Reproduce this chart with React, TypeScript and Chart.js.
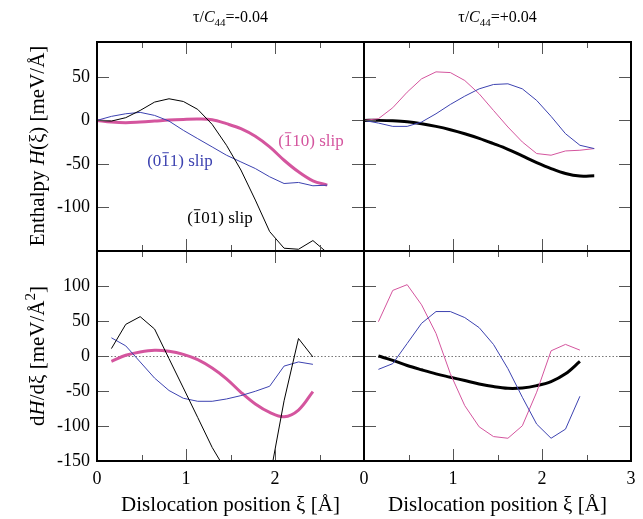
import React, { useEffect, useRef } from 'react';
import { Chart, registerables } from 'chart.js';
Chart.register(...registerables);

const W = 643;
const H = 519;
const FONT = '"Liberation Serif", "DejaVu Serif", serif';
const PINK = '#d4559e';
const BLUE = '#3c42b0';
const BLACK = '#000000';

// dislocation positions (Å)
const xTop = [0, 0.162, 0.323, 0.485, 0.647, 0.809, 0.97, 1.132, 1.294, 1.455, 1.617, 1.779, 1.94, 2.102, 2.264, 2.426, 2.587];
const xBot = [0.162, 0.323, 0.485, 0.647, 0.809, 0.97, 1.132, 1.294, 1.455, 1.617, 1.779, 1.94, 2.102, 2.264, 2.426];

// tau/C44 = -0.04 : enthalpy H(xi) [meV/Å]
const hNeg110 = [0, -1.9, -2.7, -1.9, -0.8, 0.4, 1.1, 1.5, 0.8, -3.8, -9.5, -18.3, -30.5, -45.8, -59.1, -69.4, -74.4];
const hNeg011 = [0, 4.6, 7.6, 9.2, 5.7, -0.8, -11.4, -21, -30.5, -40, -47.7, -55.3, -64.8, -72.5, -71.3, -75.1, -74.4];
const hNeg101 = [0, -0.8, 3.1, 11.4, 21, 24.8, 21.7, 12.6, -4.6, -28.6, -57, -91.5, -127.7, -146.8, -148, -138, -152];

// tau/C44 = +0.04 : enthalpy
const hPos110 = [0, 1.9, 14.5, 32.4, 47.7, 55.7, 54.9, 45.8, 30.5, 11.4, -7.6, -24.8, -38.1, -40, -35.1, -34.3, -32.4];
const hPos011 = [0, -3.1, -6.9, -6.9, -1.9, 7.6, 18.3, 27.8, 36.2, 41.2, 42, 36.2, 22.9, 4.6, -15.3, -28.6, -32.4];
const hPos101 = [0, 0, -0.4, -1.5, -3.8, -6.9, -10.7, -15.3, -20.6, -26.7, -33.2, -40.8, -48.4, -55.3, -61, -64, -63.7];

// tau/C44 = -0.04 : dH/dxi [meV/Å^2]
const dNeg110 = [-7.6, 1, 5.8, 8.2, 6.8, 2.4, -5.2, -17.2, -32.6, -51.8, -68.6, -80.6, -86.8, -77.2, -50.8];
const dNeg011 = [26, 14.5, -8.5, -31.6, -49.3, -60.4, -64.7, -64.7, -61.4, -56.6, -50.4, -43.2, -14.4, -8.5, -11.9];
const dNeg101 = [10.6, 45.2, 56.2, 38.5, -3.8, -45.6, -87.9, -130.6, -165, -200, -220, -175, -64, 25, -1.4];

// tau/C44 = +0.04 : dH/dxi
const dPos110 = [49, 93.7, 101.9, 73.1, 32.3, -25.3, -70.9, -101.2, -115.1, -117.5, -99.7, -51.7, 7.4, 16.6, 8.4];
const dPos011 = [-19.1, -10.9, 17.9, 46.7, 63.5, 63.5, 54.9, 40.5, 16.5, -18.1, -58.9, -97.3, -117.5, -104.5, -57.5];
const dPos101 = [0, -6.2, -13.5, -19.7, -25.5, -30.3, -35.1, -39.9, -43.7, -46.1, -45.6, -42.3, -36.5, -25.5, -7.7];

const topRange = [-150, 90];
const botRange = [-150, 150];
const xRange = [0, 3];

type Part = { t: string; italic?: boolean; scale?: number; dy?: number; over?: boolean };

function drawRich(ctx: CanvasRenderingContext2D, parts: Part[], x: number, y: number, size: number, color: string, rot = 0) {
  ctx.save();
  ctx.translate(x, y);
  ctx.rotate(rot);
  ctx.fillStyle = color;
  ctx.strokeStyle = color;
  ctx.textBaseline = 'alphabetic';
  ctx.textAlign = 'left';
  const fontOf = (p: Part) => `${p.italic ? 'italic ' : ''}${Math.round(size * (p.scale || 1))}px ${FONT}`;
  let total = 0;
  const widths = parts.map((p) => {
    ctx.font = fontOf(p);
    const w = ctx.measureText(p.t).width;
    total += w;
    return w;
  });
  let cx = -total / 2;
  parts.forEach((p, i) => {
    ctx.font = fontOf(p);
    ctx.fillText(p.t, cx, p.dy || 0);
    if (p.over) {
      ctx.lineWidth = 1;
      ctx.beginPath();
      const oy = -size * 0.78;
      ctx.moveTo(cx + 1, oy);
      ctx.lineTo(cx + widths[i] - 1, oy);
      ctx.stroke();
    }
    cx += widths[i];
  });
  ctx.restore();
}

const textPlugin = {
  id: 'texts',
  afterDraw(chart: any) {
    const ctx = chart.ctx as CanvasRenderingContext2D;
    drawRich(ctx, [{ t: 'τ/' }, { t: 'C', italic: true }, { t: '44', scale: 0.7, dy: 4 }, { t: '=-0.04' }], 230.5, 22, 16, BLACK);
    drawRich(ctx, [{ t: 'τ/' }, { t: 'C', italic: true }, { t: '44', scale: 0.7, dy: 4 }, { t: '=+0.04' }], 497.5, 22, 16, BLACK);
    drawRich(ctx, [{ t: 'Dislocation position ξ [Å]' }], 230.5, 511, 21, BLACK);
    drawRich(ctx, [{ t: 'Dislocation position ξ [Å]' }], 497.5, 511, 21, BLACK);
    drawRich(ctx, [{ t: 'Enthalpy ' }, { t: 'H', italic: true }, { t: '(ξ) [meV/Å]' }], 44, 146, 21, BLACK, -Math.PI / 2);
    drawRich(ctx, [{ t: 'd' }, { t: 'H', italic: true }, { t: '/dξ [meV/Å' }, { t: '2', scale: 0.7, dy: -9 }, { t: ']' }], 44, 356, 21, BLACK, -Math.PI / 2);
    drawRich(ctx, [{ t: '(' }, { t: '1', over: true }, { t: '10) slip' }], 311, 146, 17, PINK);
    drawRich(ctx, [{ t: '(0' }, { t: '1', over: true }, { t: '1) slip' }], 180, 166, 17, BLUE);
    drawRich(ctx, [{ t: '(' }, { t: '1', over: true }, { t: '01) slip' }], 220, 223, 17, BLACK);
  },
};

type Panel = {
  left: number; top: number; right: number; bottom: number;
  yr: number[]; showY: boolean; showX: boolean; lastX: boolean;
  zero: boolean; hideY: number; xs: number[];
  series: { data: number[]; color: string; width: number; smooth: boolean }[];
  texts?: boolean;
};

const panels: Panel[] = [
  { left: 97, top: 42, right: 364, bottom: 251, yr: topRange, showY: true, showX: false, lastX: false, zero: false, hideY: -150, xs: xTop, texts: true,
    series: [ { data: hNeg101, color: BLACK, width: 1, smooth: false }, { data: hNeg011, color: BLUE, width: 1, smooth: false }, { data: hNeg110, color: PINK, width: 3, smooth: true } ] },
  { left: 364, top: 42, right: 631, bottom: 251, yr: topRange, showY: false, showX: false, lastX: true, zero: false, hideY: -150, xs: xTop,
    series: [ { data: hPos011, color: BLUE, width: 1, smooth: false }, { data: hPos110, color: PINK, width: 1, smooth: false }, { data: hPos101, color: BLACK, width: 3, smooth: true } ] },
  { left: 97, top: 251, right: 364, bottom: 461, yr: botRange, showY: true, showX: true, lastX: false, zero: true, hideY: 150, xs: xBot,
    series: [ { data: dNeg101, color: BLACK, width: 1, smooth: false }, { data: dNeg011, color: BLUE, width: 1, smooth: false }, { data: dNeg110, color: PINK, width: 3, smooth: true } ] },
  { left: 364, top: 251, right: 631, bottom: 461, yr: botRange, showY: false, showX: true, lastX: true, zero: true, hideY: 150, xs: xBot,
    series: [ { data: dPos011, color: BLUE, width: 1, smooth: false }, { data: dPos110, color: PINK, width: 1, smooth: false }, { data: dPos101, color: BLACK, width: 3, smooth: true } ] },
];

function makeFrame(p: Panel) {
  return {
    id: 'frame',
    beforeDatasetsDraw(chart: any) {
      if (!p.zero) return;
      const { ctx, chartArea, scales } = chart;
      const y0 = Math.round(scales.y.getPixelForValue(0)) + 0.5;
      ctx.save();
      ctx.strokeStyle = '#777';
      ctx.lineWidth = 1.2;
      ctx.setLineDash([1.5, 2]);
      ctx.beginPath();
      ctx.moveTo(chartArea.left, y0);
      ctx.lineTo(chartArea.right, y0);
      ctx.stroke();
      ctx.restore();
    },
    afterDraw(chart: any) {
      const { ctx, chartArea, scales } = chart;
      const { left, top, right, bottom } = chartArea;
      ctx.save();
      ctx.strokeStyle = '#555';
      ctx.lineWidth = 1;
      ctx.beginPath();
      for (let k = 1; k < 6; k++) {
        const v = k * 0.5;
        const px = Math.round(scales.x.getPixelForValue(v)) + 0.5;
        const len = k % 2 === 0 ? 12 : 6;
        ctx.moveTo(px, top);
        ctx.lineTo(px, top + len);
        ctx.moveTo(px, bottom);
        ctx.lineTo(px, bottom - len);
      }
      for (let v = -100; v <= 100; v += 50) {
        if (v <= p.yr[0] || v >= p.yr[1]) continue;
        const py = Math.round(scales.y.getPixelForValue(v)) + 0.5;
        ctx.moveTo(left, py);
        ctx.lineTo(left + 12, py);
        ctx.moveTo(right, py);
        ctx.lineTo(right - 12, py);
      }
      ctx.stroke();
      ctx.strokeStyle = '#000';
      ctx.lineWidth = 2;
      ctx.strokeRect(left, top, right - left, bottom - top);
      ctx.restore();
    },
  };
}

function PanelChart({ p }: { p: Panel }) {
  const ref = useRef<HTMLCanvasElement | null>(null);
  useEffect(() => {
    if (!ref.current) return;
    const datasets = p.series.map((s) => ({
      data: p.xs.map((x, i) => ({ x, y: s.data[i] })),
      borderColor: s.color,
      borderWidth: s.width,
      tension: s.smooth ? 0.35 : 0,
      pointRadius: 0,
      fill: false,
      clip: 0,
    }));
    const plugins: any[] = [makeFrame(p)];
    if (p.texts) plugins.push(textPlugin);
    const chart = new Chart(ref.current, {
      type: 'line',
      data: { datasets } as any,
      options: {
        responsive: false,
        animation: false,
        devicePixelRatio: 1,
        events: [],
        layout: {
          padding: {
            left: p.showY ? 0 : p.left,
            top: p.top,
            right: W - p.right,
            bottom: p.showX ? 0 : H - p.bottom,
          },
        },
        plugins: { legend: { display: false }, tooltip: { enabled: false } },
        scales: {
          x: {
            type: 'linear',
            min: xRange[0],
            max: xRange[1],
            display: p.showX,
            grid: { display: false, drawTicks: false },
            border: { display: false },
            ticks: {
              stepSize: 1,
              padding: 7,
              color: '#000',
              maxRotation: 0,
              autoSkip: false,
              font: { family: FONT, size: 18 },
              callback: (v: any) => (Number.isInteger(v) && (p.lastX || v !== 3) ? String(v) : ''),
            },
            afterFit: (s: any) => {
              if (p.showX) s.height = H - p.bottom;
            },
          },
          y: {
            type: 'linear',
            min: p.yr[0],
            max: p.yr[1],
            display: p.showY,
            grid: { display: false, drawTicks: false },
            border: { display: false },
            ticks: {
              stepSize: 50,
              padding: 7,
              color: '#000',
              autoSkip: false,
              font: { family: FONT, size: 18 },
              callback: (v: any) => (v % 50 === 0 && v !== p.hideY ? String(v) : ''),
            },
            afterFit: (s: any) => {
              if (p.showY) s.width = p.left;
            },
          },
        },
      } as any,
      plugins,
    });
    return () => chart.destroy();
  }, [p]);
  return (
    <canvas
      ref={ref}
      width={W}
      height={H}
      style={{ position: 'absolute', left: 0, top: 0, width: W, height: H }}
    />
  );
}

export default function App() {
  return (
    <div style={{ position: 'absolute', left: 0, top: 0, width: W, height: H, background: '#fff' }}>
      {panels.map((p, i) => (
        <PanelChart key={i} p={p} />
      ))}
    </div>
  );
}
